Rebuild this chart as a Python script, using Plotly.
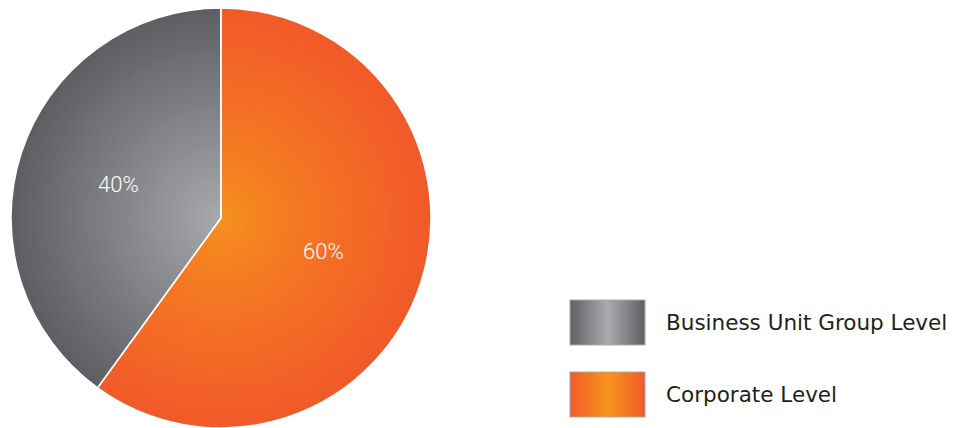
import math
import plotly.graph_objects as go

# Share of decisions by organisational level (clockwise from 12 o'clock)
labels = ["Corporate Level", "Business Unit Group Level"]
values = [60, 40]
pct_text = ["60%", "40%"]

# Legend entries, top to bottom
legend_labels = ["Business Unit Group Level", "Corporate Level"]

# Gradient end points (center -> rim) for each label
inner_colors = {"Business Unit Group Level": "#A9ABAE", "Corporate Level": "#F7941D"}
outer_colors = {"Business Unit Group Level": "#5E5F62", "Corporate Level": "#F15A29"}
gamma = {"Business Unit Group Level": 0.95, "Corporate Level": 0.75}

W, H = 953, 428
CX, CY = 221, 218          # pie center in pixels (from top-left)
R = 210                    # pie radius in pixels
N_RINGS = 70


def hex_to_rgb(h):
    h = h.lstrip("#")
    return tuple(int(h[i:i + 2], 16) for i in (0, 2, 4))


def mix(c1, c2, t):
    a, b = hex_to_rgb(c1), hex_to_rgb(c2)
    return "rgb({},{},{})".format(*[round(a[i] + (b[i] - a[i]) * t) for i in range(3)])


def domain_for(r):
    yb = H - CY
    return dict(x=[(CX - r) / W, (CX + r) / W], y=[(yb - r) / H, (yb + r) / H])


fig = go.Figure()

# Radial gradient: stacked full pies from the rim inwards, each a bit lighter
for k in range(N_RINGS, 0, -1):
    t = k / N_RINGS
    cols = [mix(inner_colors[l], outer_colors[l], t ** gamma[l]) for l in labels]
    fig.add_trace(go.Pie(
        labels=labels, values=values, sort=False, direction="clockwise",
        rotation=0, domain=domain_for(R * t), textinfo="none", hoverinfo="skip",
        marker=dict(colors=cols, line=dict(width=0)), showlegend=False,
    ))

# Slice outline on top
fig.add_trace(go.Pie(
    labels=labels, values=values, sort=False, direction="clockwise",
    rotation=0, domain=domain_for(R), textinfo="none",
    hovertemplate="%{label}: %{value}%<extra></extra>",
    marker=dict(colors=["rgba(0,0,0,0)"] * len(values),
                line=dict(color="white", width=1.5)),
    showlegend=False,
))

# Percentage labels at each slice's mid-angle
total = sum(values)
cum = 0
for v, txt in zip(values, pct_text):
    mid = (cum + v / 2) / total * 2 * math.pi   # clockwise from 12 o'clock
    cum += v
    rr = 0.515 * R
    px = CX + rr * math.sin(mid)
    py = CY - rr * math.cos(mid)
    fig.add_annotation(
        x=px / W, y=1 - py / H, xref="paper", yref="paper", text=txt,
        showarrow=False, xanchor="center", yanchor="middle",
        font=dict(family="Roboto", size=22, color="white", weight=300),
    )

# Legend with horizontally shaded swatches
sw_x0, sw_w, sw_h = 570, 75, 45
sw_tops = [300, 372]
n_strips = 75
shapes = []
for name, top in zip(legend_labels, sw_tops):
    ci, co = inner_colors[name], outer_colors[name]
    for s in range(n_strips):
        u = (s + 0.5) / n_strips
        t = abs(u - 0.5) * 2
        x0 = sw_x0 + s * sw_w / n_strips
        x1 = min(x0 + sw_w / n_strips + 0.6, sw_x0 + sw_w)
        shapes.append(dict(
            type="rect", xref="paper", yref="paper", layer="above",
            x0=x0 / W, x1=x1 / W, y0=1 - (top + sw_h) / H, y1=1 - top / H,
            fillcolor=mix(ci, co, t), line=dict(width=0),
        ))
    shapes.append(dict(
        type="rect", xref="paper", yref="paper", layer="above",
        x0=sw_x0 / W, x1=(sw_x0 + sw_w) / W,
        y0=1 - (top + sw_h) / H, y1=1 - top / H,
        fillcolor="rgba(0,0,0,0)", line=dict(color="#ABABAB", width=1.2),
    ))
    fig.add_annotation(
        x=664 / W, y=1 - (top + sw_h / 2) / H, xref="paper", yref="paper",
        text=name, showarrow=False, xanchor="left", yanchor="middle",
        font=dict(family="DejaVu Sans", size=21.5, color="#231F20"),
    )

fig.update_layout(
    width=W, height=H, autosize=False,
    margin=dict(l=0, r=0, t=0, b=0),
    paper_bgcolor="white", plot_bgcolor="white",
    shapes=shapes, showlegend=False,
)

fig.write_html("out.html")
